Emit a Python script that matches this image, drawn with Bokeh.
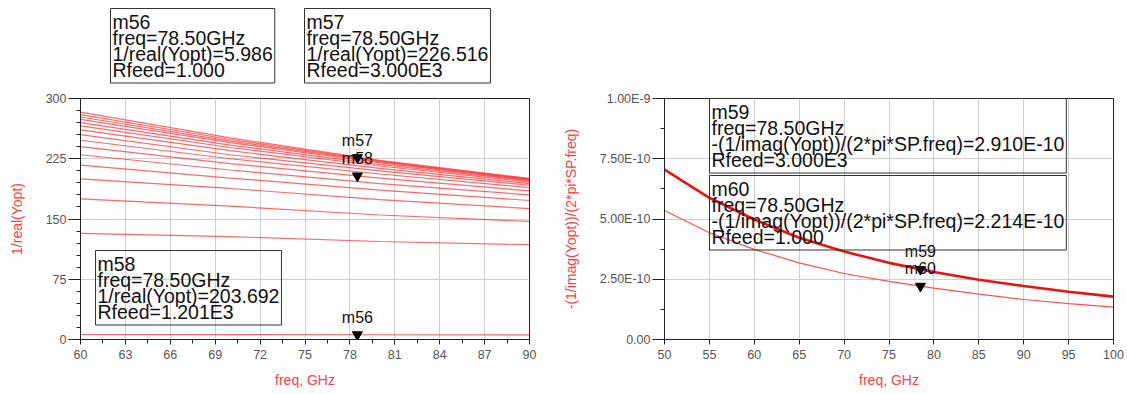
from bokeh.plotting import figure
from bokeh.layouts import row, column
from bokeh.models import Label, Range1d, SingleIntervalTicker, FixedTicker
from bokeh.core.properties import value
from bokeh.embed import file_html
from bokeh.resources import INLINE

FONT = "Liberation Sans"

# ---------------- left chart data: 1/real(Yopt) vs freq, one line per Rfeed
left_freq_ghz = [60, 70, 80, 90]
left_rfeed = [1, 201, 401, 601, 801, 1001, 1201, 1401, 1600, 1800,
              2000, 2200, 2400, 2600, 2800, 3000]
left_inv_real_yopt = [
    [6.2, 6.1, 5.9, 5.8],
    [132, 128, 122, 118],
    [175, 166, 155, 147],
    [200, 188, 174, 163],
    [217, 201, 186, 173],
    [230, 211, 194, 180],
    [240, 219, 201, 185],
    [248, 225, 206, 189],
    [255, 230, 210, 192],
    [261, 235, 213, 194],
    [266, 239, 216, 196],
    [270, 242, 218, 197.5],
    [274, 245, 220, 198.5],
    [277, 247, 221, 199.3],
    [280, 249, 222, 200],
    [283, 251, 223, 200.6],
]
left_marker_names = ["m56", "m57", "m58"]
left_marker_freq = [78.5, 78.5, 78.5]
left_marker_values = [5.986, 226.516, 203.692]
left_marker_rfeed = ["1.000", "3.000E3", "1.201E3"]

# ---------------- right chart data: -(1/imag(Yopt))/(2*pi*freq)
right_freq_ghz = [50, 55, 60, 65, 70, 75, 80, 85, 90, 95, 100]
right_rfeed_3000 = [7.05e-10, 5.88e-10, 4.98e-10, 4.22e-10, 3.65e-10, 3.18e-10,
                    2.80e-10, 2.48e-10, 2.22e-10, 1.98e-10, 1.78e-10]
right_rfeed_1 = [5.35e-10, 4.43e-10, 3.74e-10, 3.18e-10, 2.74e-10, 2.41e-10,
                 2.13e-10, 1.88e-10, 1.66e-10, 1.49e-10, 1.34e-10]
right_y_ticks = [0.0, 2.5e-10, 5.0e-10, 7.5e-10, 1.0e-9]
right_y_tick_labels = ["0.00", "2.50E-10", "5.00E-10", "7.50E-10", "1.00E-9"]
right_y_minor_ticks = [1.25e-10, 3.75e-10, 6.25e-10, 8.75e-10]
right_marker_names = ["m59", "m60"]
right_marker_freq = [78.5, 78.5]
right_marker_values = [2.910e-10, 2.214e-10]
right_marker_values_text = ["2.910E-10", "2.214E-10"]
right_marker_rfeed = ["3.000E3", "1.000"]

RED = "#ff2a2a"
GRID = "#cfcfcf"
TICK_LABEL = "#555555"


def style(p, xlabel, ylabel):
    p.outline_line_color = "#222222"
    p.outline_line_width = 1
    p.background_fill_color = "white"
    p.border_fill_color = "white"
    for ax in (p.xaxis[0], p.yaxis[0]):
        ax.axis_line_color = "#222222"
        ax.major_tick_line_color = "#222222"
        ax.minor_tick_line_color = "#222222"
        ax.major_tick_in = 0
        ax.minor_tick_in = 0
        ax.major_label_text_font = FONT
        ax.major_label_text_font_size = "12.5px"
        ax.major_label_text_color = TICK_LABEL
        ax.axis_label_text_font = FONT
        ax.axis_label_text_font_size = "14px"
        ax.axis_label_text_font_style = "normal"
        ax.axis_label_text_color = "#ff4040"
    p.xaxis.axis_label = xlabel
    p.yaxis.axis_label = ylabel
    p.xaxis.major_tick_out = 5
    p.xaxis.minor_tick_out = 4
    p.xaxis.major_label_standoff = 5
    p.xaxis.axis_label_standoff = 10
    p.yaxis.major_tick_out = 12
    p.yaxis.minor_tick_out = 4
    p.yaxis.major_label_standoff = 2
    p.yaxis.axis_label_standoff = 18
    p.xgrid.grid_line_color = GRID
    p.ygrid.grid_line_color = GRID


def box(p, text, x, y):
    p.add_layout(Label(x=x, y=y, x_units="screen", y_units="screen", text=text,
                       text_font=FONT, text_font_size="19.5px", text_color="#111111",
                       text_align="left", text_baseline="top", text_line_height=0.735,
                       background_fill_color=None, border_line_color="#333333",
                       border_line_width=1, padding=2))


# ---------------- strip above the left chart holding two marker boxes
strip = figure(width=549, height=88, x_range=Range1d(0, 449), y_range=Range1d(0, 88),
               output_backend="svg", toolbar_location=None,
               min_border_left=80, min_border_right=20, min_border_top=0, min_border_bottom=0)
strip.axis.visible = False
strip.grid.visible = False
strip.outline_line_color = None
strip.scatter([0], [0], alpha=0)

for name, f, v, rf, bx in zip(left_marker_names[:2], left_marker_freq[:2],
                              left_marker_values[:2], left_marker_rfeed[:2], [30, 224]):
    box(strip, f"{name}\nfreq={f:.2f}GHz\n1/real(Yopt)={v:.3f}\nRfeed={rf}", bx, 80)

# ---------------- left figure
p1 = figure(width=549, height=306, x_range=Range1d(60, 90), y_range=Range1d(0, 300),
            output_backend="svg", toolbar_location=None,
            min_border_left=80, min_border_right=20, min_border_top=10, min_border_bottom=55)
style(p1, "freq, GHz", "1/real(Yopt)")
t1x = SingleIntervalTicker(interval=3, num_minor_ticks=2)
t1y = SingleIntervalTicker(interval=75, num_minor_ticks=5)
p1.xaxis.ticker = t1x
p1.xgrid.ticker = t1x
p1.yaxis.ticker = t1y
p1.ygrid.ticker = t1y

for series in left_inv_real_yopt:
    p1.line(left_freq_ghz, series, line_color=RED, line_alpha=0.7, line_width=1.2)

p1.scatter(left_marker_freq, left_marker_values, marker="inverted_triangle",
           size=10, color="black")
p1.text(left_marker_freq, left_marker_values, text=left_marker_names,
        text_font=value(FONT), text_font_size="16px", text_color="#111111",
        text_align="center", text_baseline="bottom", y_offset=-9)

box(p1, f"{left_marker_names[2]}\nfreq={left_marker_freq[2]:.2f}GHz\n"
        f"1/real(Yopt)={left_marker_values[2]:.3f}\nRfeed={left_marker_rfeed[2]}", 15, 89)

# ---------------- right figure
p2 = figure(width=578, height=394, x_range=Range1d(50, 100), y_range=Range1d(0, 1e-9),
            output_backend="svg", toolbar_location=None,
            min_border_left=115, min_border_right=14, min_border_top=98, min_border_bottom=55)
style(p2, "freq, GHz", "-(1/imag(Yopt))/(2*pi*SP.freq)")
t2x = SingleIntervalTicker(interval=5, num_minor_ticks=0)
t2y = FixedTicker(ticks=right_y_ticks, minor_ticks=right_y_minor_ticks)
p2.xaxis.ticker = t2x
p2.xgrid.ticker = t2x
p2.xaxis.minor_tick_line_color = None
p2.yaxis.ticker = t2y
p2.ygrid.ticker = t2y
p2.yaxis.major_label_overrides = dict(zip(right_y_ticks, right_y_tick_labels))

p2.line(right_freq_ghz, right_rfeed_3000, line_color="#ee1010", line_width=2.6)
p2.line(right_freq_ghz, right_rfeed_1, line_color="#ff5050", line_width=1.2)

p2.scatter(right_marker_freq, right_marker_values, marker="inverted_triangle",
           size=10, color="black")
p2.text(right_marker_freq, right_marker_values, text=right_marker_names,
        text_font=value(FONT), text_font_size="16px", text_color="#111111",
        text_align="center", text_baseline="bottom", y_offset=-9)

for name, f, vt, rf, by in zip(right_marker_names, right_marker_freq,
                               right_marker_values_text, right_marker_rfeed, [241, 164]):
    box(p2, f"{name}\nfreq={f:.2f}GHz\n-(1/imag(Yopt))/(2*pi*SP.freq)={vt}\nRfeed={rf}", 45, by)

layout = row(column(strip, p1), p2)
open("out.html", "w").write(file_html(layout, INLINE))
